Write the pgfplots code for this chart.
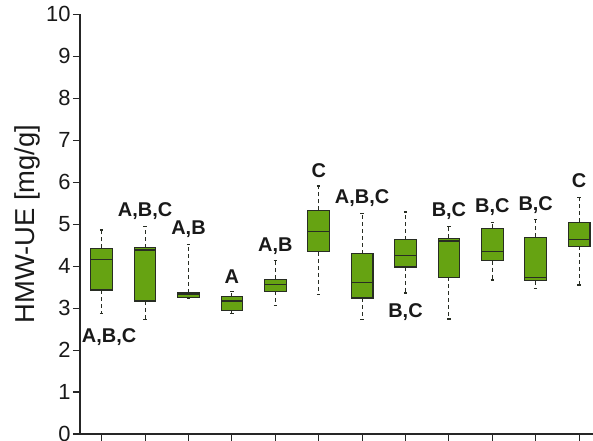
\documentclass[border=0pt]{standalone}
\usepackage{pgfplots}
\pgfplotsset{compat=1.18}
\usepgfplotslibrary{statistics}
\usepackage{fontspec}
\setmainfont{Liberation Sans}
\setsansfont{Liberation Sans}
\definecolor{boxgreen}{RGB}{102,163,18}
\definecolor{boxedge}{RGB}{40,45,35}
\begin{document}
\begin{tikzpicture}
\begin{axis}[
  scale only axis,
  width=513bp, height=419.7bp,
  xmin=0.5, xmax=12.32,
  ymin=0, ymax=10,
  axis x line*=bottom, axis y line*=left,
  axis line style={line width=1.1pt, black!85},
  xtick={1,...,12}, xticklabels={},
  ytick={0,1,...,10},
  tick style={line width=1.1pt, black!85},
  tick align=outside,
  major tick length=7bp,
  /pgf/number format/assume math mode=true,
  yticklabel style={font=\fontsize{22}{22}\selectfont, text=black!90, xshift=1bp},
  ylabel={HMW-UE [mg/g]},
  ylabel style={font=\fontsize{27.5}{27.5}\selectfont, text=black!90, yshift=-1bp},
  clip=false,
  boxplot/draw direction=y,
  boxplot/box extend=0.5,
  boxplot/whisker extend=0.08,
  boxplot/every box/.style={draw=boxedge, fill=boxgreen, line width=1.1pt},
  boxplot/every median/.style={draw=boxedge, line width=1.5pt},
  boxplot/every whisker/.style={draw=boxedge, line width=1.1pt, dash pattern=on 4bp off 3bp},
]
\addplot[boxplot prepared={lower whisker=2.87, lower quartile=3.43, median=4.16, upper quartile=4.42, upper whisker=4.86, draw position=1}] coordinates {};
\addplot[boxplot prepared={lower whisker=2.73, lower quartile=3.17, median=4.38, upper quartile=4.44, upper whisker=4.94, draw position=2}] coordinates {};
\addplot[boxplot prepared={lower whisker=3.23, lower quartile=3.25, median=3.32, upper quartile=3.36, upper whisker=4.52, draw position=3}] coordinates {};
\addplot[boxplot prepared={lower whisker=2.87, lower quartile=2.94, median=3.17, upper quartile=3.27, upper whisker=3.40, draw position=4}] coordinates {};
\addplot[boxplot prepared={lower whisker=3.07, lower quartile=3.40, median=3.56, upper quartile=3.69, upper whisker=4.14, draw position=5}] coordinates {};
\addplot[boxplot prepared={lower whisker=3.33, lower quartile=4.34, median=4.83, upper quartile=5.33, upper whisker=5.91, draw position=6}] coordinates {};
\addplot[boxplot prepared={lower whisker=2.72, lower quartile=3.24, median=3.61, upper quartile=4.29, upper whisker=5.26, draw position=7}] coordinates {};
\addplot[boxplot prepared={lower whisker=3.36, lower quartile=3.98, median=4.25, upper quartile=4.63, upper whisker=5.29, draw position=8}] coordinates {};
\addplot[boxplot prepared={lower whisker=2.74, lower quartile=3.73, median=4.60, upper quartile=4.66, upper whisker=4.94, draw position=9}] coordinates {};
\addplot[boxplot prepared={lower whisker=3.67, lower quartile=4.13, median=4.35, upper quartile=4.90, upper whisker=5.05, draw position=10}] coordinates {};
\addplot[boxplot prepared={lower whisker=3.47, lower quartile=3.65, median=3.73, upper quartile=4.69, upper whisker=5.10, draw position=11}] coordinates {};
\addplot[boxplot prepared={lower whisker=3.55, lower quartile=4.47, median=4.64, upper quartile=5.05, upper whisker=5.64, draw position=12}] coordinates {};
% significance letters
\addplot[only marks, mark=none, nodes near coords, point meta=explicit symbolic,
  every node near coord/.style={anchor=center, font=\fontsize{20}{20}\selectfont\bfseries, text=black!90}]
  table[meta=lab, row sep=\\] {
  x y lab\\
  1.17 2.31 {A,B,C}\\
  2 5.31 {A,B,C}\\
  3 4.87 {A,B}\\
  4 3.76 {A}\\
  5 4.48 {A,B}\\
  6 6.27 {C}\\
  7 5.63 {A,B,C}\\
  8 2.91 {B,C}\\
  9 5.31 {B,C}\\
  10 5.41 {B,C}\\
  11 5.45 {B,C}\\
  12 6.03 {C}\\
  };
\end{axis}
\pgfresetboundingbox
\path[use as bounding box] (-80bp,-7bp) rectangle (513bp,434bp);
\end{tikzpicture}
\end{document}
